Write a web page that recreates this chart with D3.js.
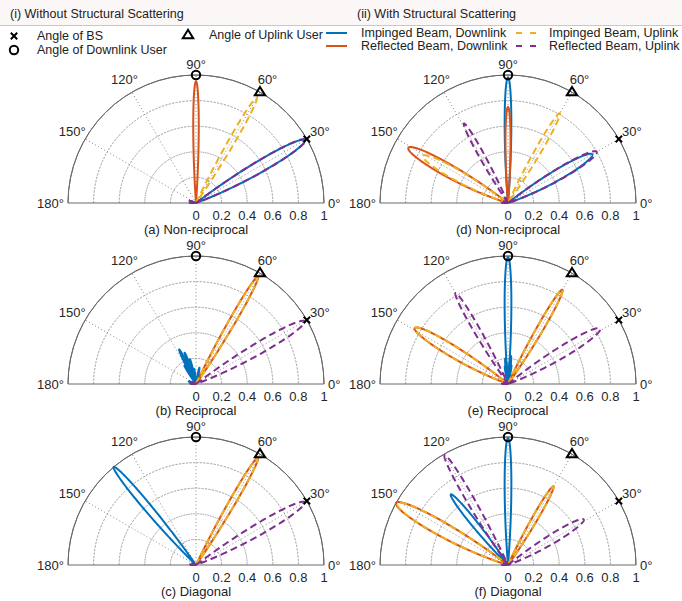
<!DOCTYPE html>
<html><head><meta charset="utf-8">
<script src="https://cdn.jsdelivr.net/npm/d3@7"></script>
<style>
body{margin:0;background:#fff}
svg{display:block;font-family:"Liberation Sans",Arial,Helvetica,sans-serif}
</style>
</head><body>
<svg id="chart" width="682" height="601"></svg>
<script>
// ---------------- data ----------------
const sectionTitles = ["(i) Without Structural Scattering", "(ii) With Structural Scattering"];
const panelLabels = ["(a) Non-reciprocal", "(b) Reciprocal", "(c) Diagonal",
                     "(d) Non-reciprocal", "(e) Reciprocal", "(f) Diagonal"];
const angleTicks = [0, 30, 60, 90, 120, 150, 180];
const radialTicks = [0, 0.2, 0.4, 0.6, 0.8, 1];
const seriesNames = ["Impinged Beam, Downlink", "Reflected Beam, Downlink",
                     "Impinged Beam, Uplink", "Reflected Beam, Uplink"];
const markerNames = ["Angle of BS", "Angle of Downlink User", "Angle of Uplink User"];
const bsAngle = 30, downlinkAngle = 90, uplinkAngle = 60;

// lobes per panel: [direction (deg), peak gain]
const impingedDownlink = [
  [[30, 0.98], [170, 0.05]],
  [[116, 0.30], [110, 0.26], [104, 0.20], [122, 0.17], [97, 0.12], [78, 0.13], [68, 0.08], [160, 0.06]],
  [[130, 1.0]],
  [[90, 0.98], [30, 0.76]],
  [[90, 0.99], [84, 0.22], [96, 0.20], [80, 0.15], [100, 0.14], [87, 0.10]],
  [[90, 0.99], [129, 0.71]]
];
const reflectedDownlink = [
  [[90, 0.95]],
  [[60, 0.97]],
  [[60, 0.97]],
  [[90, 0.75], [151, 0.89]],
  [[60, 0.85], [149, 0.85]],
  [[151, 1.0], [60, 0.71]]
];
const impingedUplink = [
  [[60, 0.95], [165, 0.05]],
  [[60, 0.96]],
  [[60, 0.96]],
  [[60, 0.81], [151, 0.76]],
  [[60, 0.85], [149, 0.85]],
  [[151, 0.99], [60, 0.71]]
];
const reflectedUplink = [
  [[30, 0.99], [165, 0.07]],
  [[30, 0.98], [165, 0.06]],
  [[30, 0.98], [165, 0.06]],
  [[30, 0.80], [119, 0.71], [165, 0.06]],
  [[31, 0.84], [120, 0.82], [165, 0.06]],
  [[31, 0.69], [120, 0.99], [165, 0.06]]
];
const arrayElements = [28, 28, 28, 24, 24, 24];
const seriesData = [impingedDownlink, reflectedDownlink, impingedUplink, reflectedUplink];

// ---------------- style ----------------
const colors = ["#0072BD", "#D95319", "#EDB120", "#7E2F8E"];
const dashed = [false, false, true, true];
const R = 128;
const centers = [[196, 203], [196, 384], [196, 565], [508, 203], [508, 384], [508, 565]];

const svg = d3.select("#chart");
const rScale = d3.scaleLinear().domain([0, 1]).range([0, R]);
const rad = d => d * Math.PI / 180;

// header strip
svg.append("rect").attr("x", 0).attr("y", 0).attr("width", 682).attr("height", 25).attr("fill", "#fbf7f6");
svg.append("line").attr("x1", 0).attr("x2", 682).attr("y1", 25.5).attr("y2", 25.5).attr("stroke", "#c8c8c8");
svg.append("text").attr("x", 10).attr("y", 14).attr("dominant-baseline", "central")
  .attr("font-size", 12.5).attr("fill", "#222").text(sectionTitles[0]);
svg.append("text").attr("x", 357).attr("y", 14).attr("dominant-baseline", "central")
  .attr("font-size", 12.5).attr("fill", "#222").text(sectionTitles[1]);

// marker drawing helpers
function drawMarker(g, type, x, y, s) {
  if (type === "x") {
    g.append("path").attr("d", `M${x - s},${y - s}L${x + s},${y + s}M${x - s},${y + s}L${x + s},${y - s}`)
      .attr("stroke", "#000").attr("stroke-width", 2).attr("fill", "none");
  } else if (type === "o") {
    g.append("circle").attr("cx", x).attr("cy", y).attr("r", s + 1)
      .attr("stroke", "#000").attr("stroke-width", 2).attr("fill", "none");
  } else {
    g.append("path").attr("d", `M${x},${y - s - 2}L${x + s + 2},${y + s}L${x - s - 2},${y + s}Z`)
      .attr("stroke", "#000").attr("stroke-width", 2).attr("fill", "none").attr("stroke-linejoin", "miter");
  }
}

// legend
const lg = svg.append("g").attr("font-size", 12.5).attr("fill", "#222");
drawMarker(lg, "x", 14, 36, 3.2);
lg.append("text").attr("x", 37).attr("y", 36).attr("dominant-baseline", "central").text(markerNames[0]);
drawMarker(lg, "o", 14, 50, 3.2);
lg.append("text").attr("x", 37).attr("y", 50).attr("dominant-baseline", "central").text(markerNames[1]);
drawMarker(lg, "t", 188, 35, 3.2);
lg.append("text").attr("x", 209).attr("y", 35).attr("dominant-baseline", "central").text(markerNames[2]);
const legPos = [[326, 361, 33], [326, 361, 46], [516, 549, 33], [516, 549, 46]];
seriesNames.forEach((n, i) => {
  const [lx, tx, y] = legPos[i];
  lg.append("line").attr("x1", lx).attr("x2", lx + (dashed[i] ? 20 : 21)).attr("y1", y).attr("y2", y)
    .attr("stroke", colors[i]).attr("stroke-width", 2)
    .attr("stroke-dasharray", dashed[i] ? "6,8" : null);
  lg.append("text").attr("x", tx).attr("y", y).attr("dominant-baseline", "central").text(n);
});

// lobe outline (main lobe of a uniform array pattern) for a given direction and peak
function lobe(theta0, peak, N) {
  const c0 = Math.cos(rad(theta0)), du = 2 / N, pts = [];
  const steps = 160;
  for (let i = 0; i <= steps; i++) {
    const u = -du + 2 * du * i / steps;
    const c = Math.max(-1, Math.min(1, c0 + u));
    const th = Math.acos(c);
    const a = Math.abs(u) < 1e-9 ? 1 : Math.abs(Math.sin(N * Math.PI * u / 2) / (N * Math.sin(Math.PI * u / 2)));
    pts.push([th, peak * a]);
  }
  return pts;
}
const radial = d3.lineRadial().angle(d => Math.PI / 2 - d[0]).radius(d => rScale(d[1]));

centers.forEach(([cx, cy], p) => {
  const g = svg.append("g").attr("transform", `translate(${cx},${cy})`);
  // grid circles
  radialTicks.filter(t => t > 0 && t < 1).forEach(t => {
    g.append("path").attr("d", d3.arc()({innerRadius: rScale(t), outerRadius: rScale(t), startAngle: -Math.PI / 2, endAngle: Math.PI / 2}))
      .attr("fill", "none").attr("stroke", "#8a8a8a").attr("stroke-width", 1).attr("stroke-dasharray", "1,2.5");
  });
  // grid spokes
  angleTicks.filter(a => a > 0 && a < 180).forEach(a => {
    g.append("line").attr("x1", 0).attr("y1", 0)
      .attr("x2", rScale(1) * Math.cos(rad(a))).attr("y2", -rScale(1) * Math.sin(rad(a)))
      .attr("stroke", "#8a8a8a").attr("stroke-width", 1).attr("stroke-dasharray", "1,2.5");
  });
  // outer edge
  g.append("path").attr("d", d3.arc()({innerRadius: R, outerRadius: R, startAngle: -Math.PI / 2, endAngle: Math.PI / 2}))
    .attr("fill", "none").attr("stroke", "#6a6a6a").attr("stroke-width", 1);
  g.append("line").attr("x1", -R).attr("x2", R).attr("y1", 0).attr("y2", 0)
    .attr("stroke", "#6a6a6a").attr("stroke-width", 1);

  // beams
  seriesData.forEach((s, si) => {
    s[p].forEach(([dir, pk]) => {
      g.append("path").attr("d", radial(lobe(dir, pk, arrayElements[p])))
        .attr("fill", "none").attr("stroke", colors[si]).attr("stroke-width", 2)
        .attr("stroke-linejoin", "round")
        .attr("stroke-dasharray", dashed[si] ? "7,4" : null);
    });
  });

  // markers
  const mpos = a => [rScale(1) * Math.cos(rad(a)), -rScale(1) * Math.sin(rad(a))];
  drawMarker(g, "x", ...mpos(bsAngle), 3.2);
  drawMarker(g, "o", ...mpos(downlinkAngle), 3.2);
  drawMarker(g, "t", ...mpos(uplinkAngle), 3.2);

  // angle labels
  angleTicks.forEach(a => {
    const t = g.append("text").attr("font-size", 13).attr("fill", "#262626").attr("dominant-baseline", "central");
    if (a === 0) t.attr("x", R + 4).attr("y", 0).attr("text-anchor", "start");
    else if (a === 180) t.attr("x", -R - 4).attr("y", 0).attr("text-anchor", "end");
    else if (a === 90) t.attr("x", 0).attr("y", -139).attr("text-anchor", "middle");
    else t.attr("x", 143 * Math.cos(rad(a))).attr("y", -143 * Math.sin(rad(a))).attr("text-anchor", "middle");
    t.text(a + "°");
  });
  // radial tick labels
  radialTicks.forEach(v => {
    g.append("text").attr("x", rScale(v)).attr("y", 12).attr("font-size", 13).attr("fill", "#262626")
      .attr("text-anchor", "middle").attr("dominant-baseline", "central").text(d3.format("~g")(v));
  });
  // panel caption
  g.append("text").attr("x", 0).attr("y", 26).attr("font-size", 13).attr("fill", "#222")
    .attr("text-anchor", "middle").attr("dominant-baseline", "central").text(panelLabels[p]);
});
</script>
</body></html>
